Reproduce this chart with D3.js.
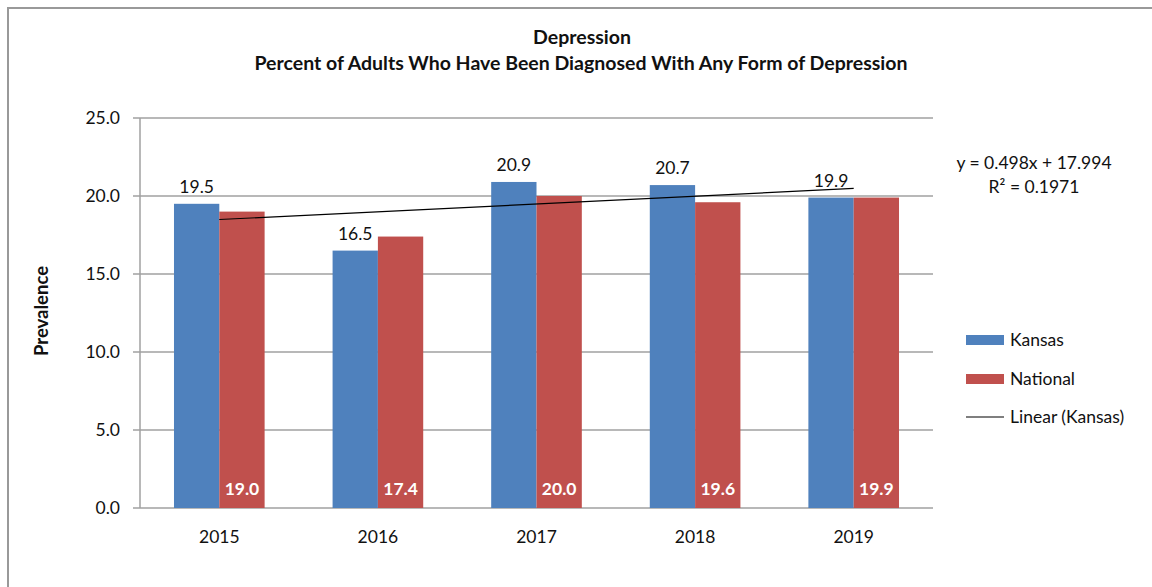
<!DOCTYPE html>
<html>
<head>
<meta charset="utf-8">
<script src="https://cdn.jsdelivr.net/npm/d3@7/dist/d3.min.js"></script>
<style>
  body { margin: 0; background: #fff; }
  text { font-family: Lato, "Open Sans", sans-serif; fill: #111; }
</style>
</head>
<body>
<div id="chart"></div>
<script>
var width = 1152,
    height = 587;

var years = ['2015', '2016', '2017', '2018', '2019'];
var kansas = [19.5, 16.5, 20.9, 20.7, 19.9];
var national = [19.0, 17.4, 20.0, 19.6, 19.9];
var yTicks = [0, 5, 10, 15, 20, 25];
// trend line shown by the chart: y = 0.498x + 17.994
var trendSlope = 0.498, trendIntercept = 17.994, trendR2 = 0.1971;

var kansasColor = '#4f81bd', nationalColor = '#c0504d';
var fs = '17.5px';

var svg = d3.select('#chart').append('svg')
    .attr('width', width)
    .attr('height', height);

// outer chart border
svg.append('rect')
    .attr('x', 8).attr('y', 8)
    .attr('width', 1160).attr('height', 600)
    .attr('fill', 'none')
    .attr('stroke', '#999')
    .attr('stroke-width', 2);

var plot = {left: 140, right: 933, top: 118, bottom: 508};

var x = d3.scaleBand().domain(years).range([plot.left, plot.right]);
var y = d3.scaleLinear().domain([0, 25]).range([plot.bottom, plot.top]);
var barW = x.bandwidth() / 3.5;

// gridlines
svg.append('g').selectAll('line')
    .data(yTicks).enter().append('line')
    .attr('x1', plot.left - 7).attr('x2', plot.right)
    .attr('y1', function(d){ return y(d); })
    .attr('y2', function(d){ return y(d); })
    .attr('stroke', '#a0a0a0')
    .attr('stroke-width', 1.5);

// y axis line
svg.append('line')
    .attr('x1', plot.left).attr('x2', plot.left)
    .attr('y1', plot.top).attr('y2', plot.bottom)
    .attr('stroke', '#a0a0a0').attr('stroke-width', 1.5);

svg.append('g').selectAll('text')
    .data(yTicks).enter().append('text')
    .attr('x', plot.left - 20)
    .attr('y', function(d){ return y(d); })
    .attr('dy', '0.35em')
    .attr('text-anchor', 'end')
    .style('font-size', fs)
    .text(function(d){ return d.toFixed(1); });

// x labels
svg.append('g').selectAll('text')
    .data(years).enter().append('text')
    .attr('x', function(d){ return x(d) + x.bandwidth() / 2; })
    .attr('y', plot.bottom + 29)
    .attr('dy', '0.35em')
    .attr('text-anchor', 'middle')
    .style('font-size', fs)
    .text(function(d){ return d; });

// bars
svg.append('g').selectAll('rect')
    .data(years).enter().append('rect')
    .attr('x', function(d){ return x(d) + x.bandwidth() / 2 - barW; })
    .attr('y', function(d, i){ return y(kansas[i]); })
    .attr('width', barW)
    .attr('height', function(d, i){ return y(0) - y(kansas[i]); })
    .attr('fill', kansasColor);

svg.append('g').selectAll('rect')
    .data(years).enter().append('rect')
    .attr('x', function(d){ return x(d) + x.bandwidth() / 2; })
    .attr('y', function(d, i){ return y(national[i]); })
    .attr('width', barW)
    .attr('height', function(d, i){ return y(0) - y(national[i]); })
    .attr('fill', nationalColor);

// value labels
svg.append('g').selectAll('text')
    .data(years).enter().append('text')
    .attr('x', function(d){ return x(d) + x.bandwidth() / 2 - barW / 2; })
    .attr('y', function(d, i){ return y(kansas[i]) - 17; })
    .attr('dy', '0.35em')
    .attr('text-anchor', 'middle')
    .style('font-size', fs)
    .text(function(d, i){ return kansas[i].toFixed(1); });

svg.append('g').selectAll('text')
    .data(years).enter().append('text')
    .attr('x', function(d){ return x(d) + x.bandwidth() / 2 + barW / 2; })
    .attr('y', plot.bottom - 19)
    .attr('dy', '0.35em')
    .attr('text-anchor', 'middle')
    .style('font-size', fs)
    .style('font-weight', 'bold')
    .style('fill', '#fff')
    .text(function(d, i){ return national[i].toFixed(1); });

// linear trend for Kansas
var trendLine = d3.line()
    .x(function(d){ return x(years[d - 1]) + x.bandwidth() / 2; })
    .y(function(d){ return y(trendSlope * d + trendIntercept); });
svg.append('path')
    .attr('d', trendLine([1, 5]))
    .attr('fill', 'none')
    .attr('stroke', '#000')
    .attr('stroke-width', 1.2);

svg.append('text')
    .attr('x', 1034).attr('y', 163)
    .attr('dy', '0.35em')
    .attr('text-anchor', 'middle')
    .style('font-size', fs)
    .text('y = ' + trendSlope.toFixed(3) + 'x + ' + trendIntercept.toFixed(3));
svg.append('text')
    .attr('x', 1034).attr('y', 187)
    .attr('dy', '0.35em')
    .attr('text-anchor', 'middle')
    .style('font-size', fs)
    .text('R² = ' + trendR2);

// titles
svg.append('text')
    .attr('x', 582).attr('y', 37)
    .attr('dy', '0.35em')
    .attr('text-anchor', 'middle')
    .style('font-size', '19.5px')
    .style('font-weight', 'bold')
    .text('Depression');
svg.append('text')
    .attr('x', 581).attr('y', 63)
    .attr('dy', '0.35em')
    .attr('text-anchor', 'middle')
    .style('font-size', '19.5px')
    .style('font-weight', 'bold')
    .text('Percent of Adults Who Have Been Diagnosed With Any Form of Depression');

svg.append('text')
    .attr('transform', 'translate(42,311) rotate(-90)')
    .attr('dy', '0.35em')
    .attr('text-anchor', 'middle')
    .style('font-size', '18.5px')
    .style('font-weight', 'bold')
    .text('Prevalence');

// legend
var legendItems = [
  {name: 'Kansas', color: kansasColor, y: 340},
  {name: 'National', color: nationalColor, y: 379},
  {name: 'Linear (Kansas)', color: null, y: 417}
];
var lg = svg.append('g').selectAll('g')
    .data(legendItems).enter().append('g');
lg.filter(function(d){ return d.color; }).append('rect')
    .attr('x', 966).attr('y', function(d){ return d.y - 5; })
    .attr('width', 38).attr('height', 10)
    .attr('fill', function(d){ return d.color; });
lg.filter(function(d){ return !d.color; }).append('line')
    .attr('x1', 966).attr('x2', 1004)
    .attr('y1', function(d){ return d.y; }).attr('y2', function(d){ return d.y; })
    .attr('stroke', '#000').attr('stroke-width', 1.2);
lg.append('text')
    .attr('x', 1010).attr('y', function(d){ return d.y; })
    .attr('dy', '0.35em')
    .style('font-size', fs)
    .text(function(d){ return d.name; });
</script>
</body>
</html>
